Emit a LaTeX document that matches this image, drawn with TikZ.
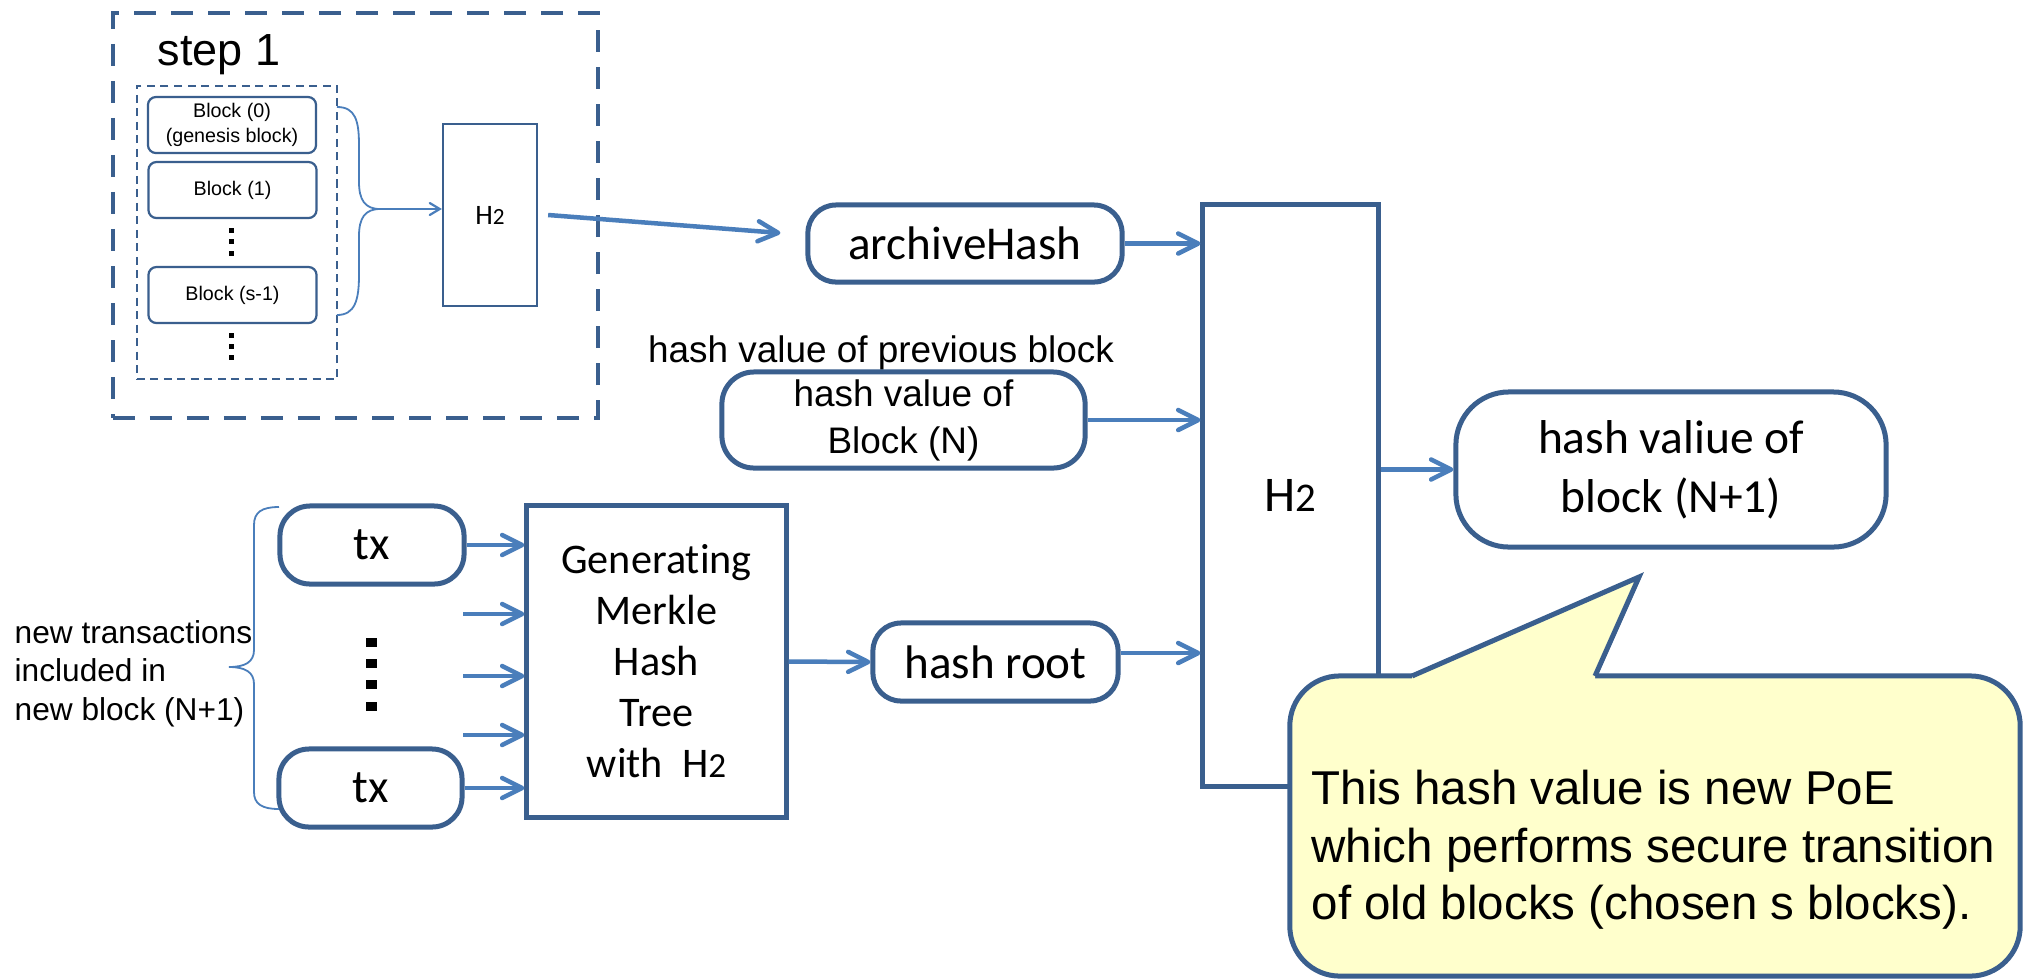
\documentclass[tikz,border=0pt]{standalone}
\usepackage{fontspec}
\setmainfont{Liberation Sans}
\newfontfamily\calfont[Ligatures=NoCommon]{Carlito}
\usetikzlibrary{arrows.meta}
\definecolor{dblue}{HTML}{3A5F8E}
\definecolor{lblue}{HTML}{4A7EBB}
\definecolor{cyel}{HTML}{FFFFCC}
\tikzset{
 rbox/.style={draw=dblue, line width=0.05cm, fill=white, inner sep=0pt, align=center},
 blk/.style={draw=dblue, line width=0.022cm, rounded corners=0.08cm, minimum width=1.68cm, minimum height=0.56cm, inner sep=0pt, align=center, font=\fontsize{5.6pt}{7.1pt}\selectfont},
 arr/.style={draw=lblue, line width=0.045cm, -{Straight Barb[length=0.2cm, width=0.2cm, line cap=round, line join=round]}},
 thinarr/.style={draw=lblue, line width=0.022cm, -{Straight Barb[length=0.1cm, width=0.12cm, line cap=round]}},
 bracel/.style={draw=lblue, line width=0.018cm},
 plain/.style={inner sep=0pt},
}
\begin{document}
\begin{tikzpicture}[x=0.01cm, y=-0.01cm]
\useasboundingbox (0,0) rectangle (2030,978);
\fill[white] (0,0) rectangle (2030,978);

% ---- step 1 group ----
\node[draw=dblue, line width=0.045cm, dash pattern=on 0.22cm off 0.15cm, minimum width=4.85cm, minimum height=4.05cm, inner sep=0pt] (stepbox) at (355.5,215.5) {};
\node[anchor=base west, plain, font=\fontsize{12.8pt}{15pt}\selectfont] (steplbl) at (157,65) {step 1};
\node[draw=dblue, line width=0.022cm, dash pattern=on 0.08cm off 0.055cm, minimum width=2.0cm, minimum height=2.93cm, inner sep=0pt] (blist) at (237,232.5) {};
\node[blk] (b0) at (232,125) {Block (0)\\(genesis block)};
\node[blk] (b1) at (232.5,190) {Block (1)};
\node[blk] (bs) at (232.5,295) {Block (s-1)};
\fill (229,228) rectangle (234,233);
\fill (229,239) rectangle (234,244);
\fill (229,251) rectangle (234,256);
\fill (229,333) rectangle (234,338);
\fill (229,344) rectangle (234,349);
\fill (229,355) rectangle (234,360);
\node[draw=dblue, line width=0.022cm, minimum width=0.94cm, minimum height=1.82cm, inner sep=0pt, font=\calfont\fontsize{8pt}{10pt}\selectfont] (h2s) at (490,215) {H{\fontsize{6.6pt}{7pt}\selectfont 2}};
\coordinate (brtip) at (380,209);
\draw[bracel] (337,107) .. controls (355,107) and (359,120) .. (359,145) -- (359,182) .. controls (359,200) and (365,209) .. (brtip)
  .. controls (365,209) and (359,218) .. (359,236) -- (359,275) .. controls (359,300) and (355,315) .. (337,315);
\draw[thinarr] (brtip) -- (brtip -| h2s.west);

% ---- middle column ----
\node[rbox, rounded corners=0.28cm, minimum width=3.14cm, minimum height=0.77cm, font=\calfont\fontsize{13.4pt}{16pt}\selectfont] (arch) at (965,243.5) {archiveHash};
\node[anchor=base, plain, font=\fontsize{10.5pt}{13pt}\selectfont] (prevlbl) at (881,362) {hash value of previous block};
\node[rbox, rounded corners=0.32cm, minimum width=3.63cm, minimum height=0.96cm, font=\fontsize{10.5pt}{13.4pt}\selectfont] (bn) at (903.5,420) {hash value of\\Block (N)};
\draw[arr] ([xshift=0.1cm]h2s.east) -- ([xshift=-0.25cm,yshift=0.105cm]arch.west);

% ---- transactions ----
\node[rbox, rounded corners=0.3cm, minimum width=1.84cm, minimum height=0.78cm, font=\calfont\fontsize{13.4pt}{16pt}\selectfont] (tx1) at (372,545) {tx};
\node[rbox, rounded corners=0.3cm, minimum width=1.83cm, minimum height=0.78cm, font=\calfont\fontsize{13.4pt}{16pt}\selectfont] (tx2) at (370.5,788) {tx};
\fill (366,638) rectangle (377,647);
\fill (366,659) rectangle (377,668);
\fill (366,680) rectangle (377,689);
\fill (366,702) rectangle (377,711);
\node[rbox, minimum width=2.59cm, minimum height=3.11cm, font=\calfont\fontsize{12pt}{14.5pt}\selectfont] (mk) at (656.5,661.5) {Generating\\Merkle\\Hash\\Tree\\with\ \ H{\fontsize{10pt}{10pt}\selectfont 2}};
\coordinate (a2) at (463,614);
\coordinate (a3) at (463,676);
\coordinate (a4) at (463,735);
\draw[arr] (tx1.east) -- (tx1.east -| mk.west);
\draw[arr] (a2) -- (a2 -| mk.west);
\draw[arr] (a3) -- (a3 -| mk.west);
\draw[arr] (a4) -- (a4 -| mk.west);
\draw[arr] (tx2.east) -- (tx2.east -| mk.west);
\node[anchor=west, plain, align=left, font=\fontsize{9pt}{11pt}\selectfont] (newtx) at (14,673.5) {new transactions\\included in\\new block (N+1)};
\coordinate (txtip) at (229,667);
\draw[bracel] (279,507) .. controls (262,507) and (254,512) .. (254,525) -- (254,650) .. controls (254,662) and (245,667) .. (txtip)
  .. controls (245,667) and (254,672) .. (254,684) -- (254,792) .. controls (254,804) and (262,809) .. (279,809);
\node[rbox, rounded corners=0.28cm, minimum width=2.45cm, minimum height=0.78cm, font=\calfont\fontsize{13.4pt}{16pt}\selectfont] (hr) at (995.5,662) {hash root};
\draw[arr] (mk.east) -- (hr.west);

% ---- right side ----
\node[rbox, minimum width=1.75cm, minimum height=5.81cm, font=\calfont\fontsize{14.2pt}{17pt}\selectfont] (h2b) at (1290.5,495.5) {H{\fontsize{11.6pt}{12pt}\selectfont 2}};
\draw[arr] (arch.east) -- (arch.east -| h2b.west);
\draw[arr] (bn.east) -- (bn.east -| h2b.west);
\draw[arr] ([yshift=0.09cm]hr.east) -- ([yshift=0.09cm]hr.east -| h2b.west);
\node[rbox, rounded corners=0.53cm, minimum width=4.30cm, minimum height=1.55cm, font=\calfont\fontsize{13.5pt}{16.8pt}\selectfont] (hv) at (1671,469.5) {hash valiue of\\block (N+1)};
\draw[arr] (hv.west -| h2b.east) -- (hv.west);

% ---- callout ----
\node[draw=dblue, line width=0.05cm, fill=cyel, rounded corners=0.5cm, minimum width=7.30cm, minimum height=3.0cm, inner sep=0pt] (callout) at (1655,826) {};
\fill[cyel] (1412,676) -- (1639,577) -- (1595,676) -- (1595,680) -- (1412,680) -- cycle;
\draw[dblue, line width=0.05cm] (1412,676) -- (1639,577) -- (1595,676);
\node[anchor=west, plain, align=left, font=\fontsize{13.5pt}{16.4pt}\selectfont] (ctext) at (1311,850) {This hash value is new PoE\\which performs secure transition\\of old blocks (chosen s blocks).};
\end{tikzpicture}
\end{document}
